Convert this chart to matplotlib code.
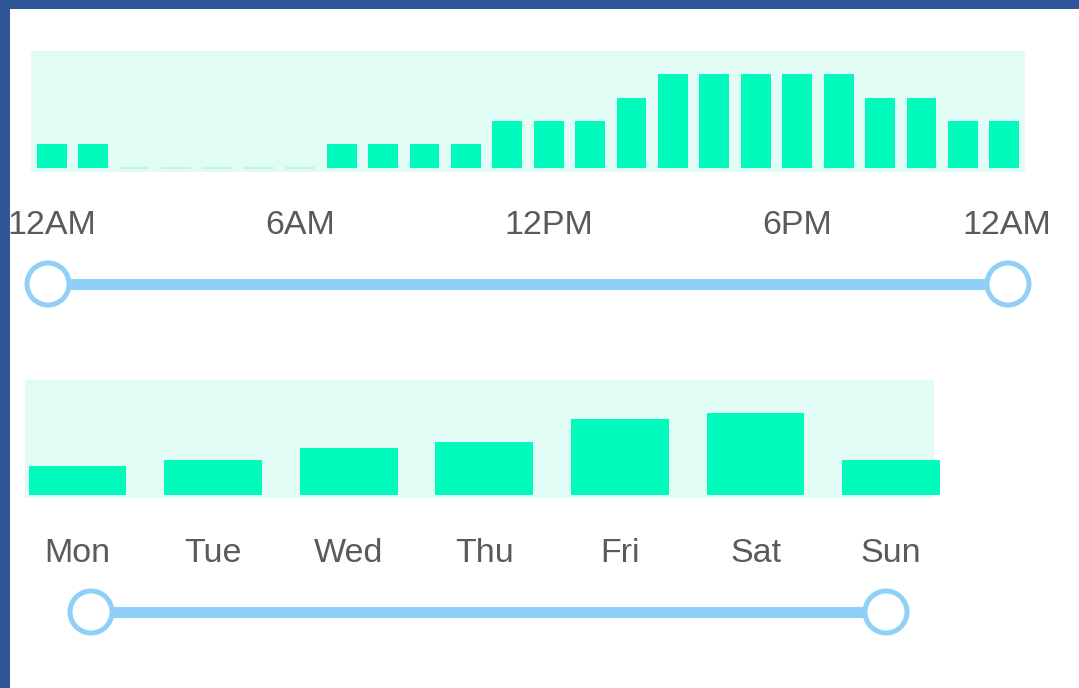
"""Hourly and weekday activity bars with range sliders"""

import matplotlib
matplotlib.use('Agg')
from matplotlib import pyplot as plt
from matplotlib.patches import Circle, Rectangle

# Data
hours = list(range(24))
hourly = [1, 1, 0, 0, 0, 0, 0, 1, 1, 1, 1, 2, 2, 2, 3, 4, 4, 4, 4, 4, 3, 3, 2, 2]
hour_labels = ['12AM', '6AM', '12PM', '6PM', '12AM']
hour_label_pos = [0, 6, 12, 18, 23.07]

days = ['Mon', 'Tue', 'Wed', 'Thu', 'Fri', 'Sat', 'Sun']
daily = [5, 6, 8, 9, 13, 14, 6]

W, H = 1079, 688
BAR = '#00fbbd'
BG = '#e0fcf4'
TXT = '#5a5a5a'
SLIDE = '#90cff8'
plt.rcParams['font.family'] = ['Liberation Sans', 'DejaVu Sans']

fig = plt.figure(figsize=(W / 100, H / 100), dpi=100)
fig.patch.set_facecolor('white')


def px_axes(x0, y0, x1, y1):
    # axes placed by pixel box (top-left origin), bare background only
    ax = fig.add_axes([x0 / W, 1 - y1 / H, (x1 - x0) / W, (y1 - y0) / H])
    ax.set_facecolor(BG)
    for s in ax.spines.values():
        s.set_visible(False)
    ax.set_xticks([])
    ax.set_yticks([])
    return ax


# Hourly panel
ax1 = px_axes(31, 51, 1025, 172)
ax1.bar(hours, hourly, width=0.72, color=BAR, linewidth=0)
zero_hours = [h for h, v in zip(hours, hourly) if v == 0]
ax1.bar(zero_hours, [0] * len(zero_hours), width=0.72, color=BAR,
        edgecolor='#c4f6e6', linewidth=1.5)
ax1.set_xlim(-0.5, 23.5)
ax1.set_ylim(-0.19, 5.0)
for pos, lab in zip(hour_label_pos, hour_labels):
    ax1.text(pos, -2.5, lab, ha='center', va='center', fontsize=24.5,
             color=TXT, clip_on=False)

# Weekday panel
ax2 = px_axes(25, 380, 934, 498)
ax2.bar(range(len(days)), daily, width=0.72, color=BAR, linewidth=0,
        clip_on=False)
ax2.set_xlim(-0.387, 6.316)
ax2.set_ylim(-0.5, 19.6)
for i, d in enumerate(days):
    ax2.text(i, -10.0, d, ha='center', va='center', fontsize=24.5,
             color=TXT, clip_on=False)

# Overlay in pixel units for sliders and frame
ov = fig.add_axes([0, 0, 1, 1])
ov.set_xlim(0, W)
ov.set_ylim(H, 0)
ov.axis('off')

for x0, x1, y in [(48, 1008, 284), (91, 886, 612)]:
    ov.plot([x0, x1], [y, y], color=SLIDE, lw=8, solid_capstyle='butt', zorder=2)
    for xc in (x0, x1):
        ov.add_patch(Circle((xc, y), 21, facecolor='white', edgecolor=SLIDE,
                            lw=3.6, zorder=3))

ov.add_patch(Rectangle((0, 0), 9.5, H, facecolor='#2e5597', edgecolor='none', zorder=5))
ov.add_patch(Rectangle((0, 0), W, 9, facecolor='#2e5597', edgecolor='none', zorder=5))

fig.savefig('out.png', dpi=100)
